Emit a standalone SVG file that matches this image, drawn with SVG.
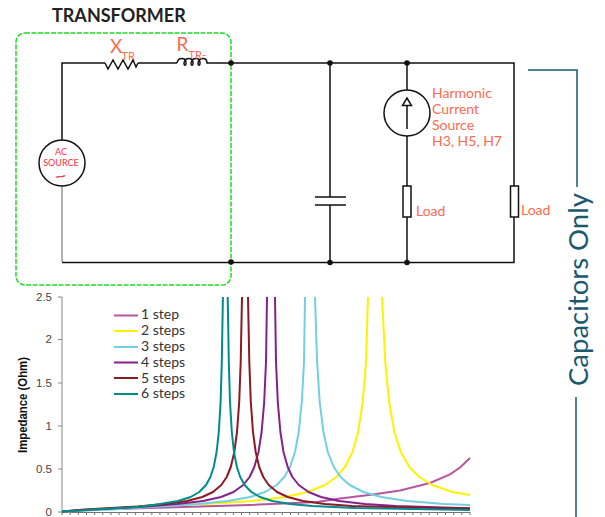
<svg xmlns="http://www.w3.org/2000/svg" width="605" height="517" viewBox="0 0 605 517">
<style>
.w{fill:none;stroke:#111;stroke-width:1.5}
.d{fill:#111}
.o{fill:#ff6a50;font-family:"Lato","Noto Sans",sans-serif}
.c{fill:none;stroke-width:2;stroke-linejoin:round}
.t{fill:#444;font-family:"Liberation Sans",Arial,sans-serif;font-size:11.5px;text-anchor:end}
.l{fill:#333;font-family:"Lato","Noto Sans",sans-serif;font-size:14px}
.s{stroke-width:2;fill:none}
</style>
<rect width="605" height="517" fill="#fff"/>
<text x="52" y="22" font-family="Lato,'Noto Sans',sans-serif" font-weight="700" font-size="18" fill="#222">TRANSFORMER</text>
<g id="connectors">
<path class="w" d="M62 140V63H105M138 63H177M208 63H514V186M514 217V262.500H62"/>
<path d="M62 186V262" fill="none" stroke="#999" stroke-width="1.500"/>
<path class="w" d="M330 63V197M330 205V262.500"/>
<path class="w" d="M407 63V90M407 136V186M407 217V262.500"/>
</g>
<rect id="transformer-box" x="16" y="33" width="215" height="252" rx="9" fill="none" stroke="#1fdc1f" stroke-width="1.500" stroke-dasharray="5 1.500"/>
<g id="junctions">
<circle class="d" cx="231" cy="63" r="2.800"/><circle class="d" cx="231" cy="262" r="2.800"/>
<circle class="d" cx="330" cy="63" r="2.800"/><circle class="d" cx="330" cy="262.500" r="2.800"/>
<circle class="d" cx="407" cy="63" r="2.800"/><circle class="d" cx="407" cy="262.500" r="2.800"/>
</g>
<g id="x-tr">
<path class="w" d="M105 63L108 69L113 60L118 69L123 60L128 69L133 60L136 67L138 63"/>
<text class="o" x="110" y="53" font-size="19">X</text><text class="o" x="121.500" y="60" font-size="11">TR</text>
</g>
<g id="r-tr">
<path class="w" d="M177 63C178 57 186 57 186 63C186 66 184 66 184 63C185 57 193 57 193 63C193 66 191 66 191 63C192 57 200 57 200 63C200 66 198 66 198 63C199 57 207 57 207 63H208"/>
<text class="o" x="176.500" y="51" font-size="19">R</text><text class="o" x="188.500" y="58.500" font-size="11">TR-</text>
</g>
<g id="ac-source">
<circle cx="62" cy="163" r="23" fill="#fff" stroke="#111" stroke-width="1.500"/>
<g fill="#ff4050" font-family="Lato,'Noto Sans',sans-serif" font-size="9px" font-weight="500" text-anchor="middle">
<text x="61" y="155">AC</text><text x="61" y="166">SOURCE</text>
<text transform="translate(60.500 180) scale(1.600 1)" font-size="12px" font-weight="900">~</text>
</g>
</g>
<g id="harmonic-source">
<circle cx="407" cy="113" r="23" fill="#fff" stroke="#111" stroke-width="1.500"/>
<path class="w" d="M407 129V105M402.500 105.500H411.500L407 98Z"/>
<g class="o" font-size="14px">
<text x="432" y="98">Harmonic</text><text x="432" y="114">Current</text><text x="432" y="130">Source</text><text x="432" y="146">H3, H5, H7</text>
</g>
</g>
<g id="capacitor"><path class="w" d="M315 197H346M315 205H346"/></g>
<g id="load-1"><rect x="403" y="186" width="8" height="31" fill="#fff" stroke="#111" stroke-width="1.500"/><text class="o" x="416" y="216" font-size="14">Load</text></g>
<g id="load-2"><rect x="510.500" y="186" width="8" height="31" fill="#fff" stroke="#111" stroke-width="1.500"/><text class="o" x="521" y="215" font-size="14">Load</text></g>
<g id="capacitors-only">
<path d="M528 70H577V187M576 397V517" fill="none" stroke="#1a5a70" stroke-width="1.500"/>
<text transform="translate(588 386) rotate(-90)" font-family="Lato,'Noto Sans',sans-serif" font-size="27.500px" fill="#1a5a70">Capacitors Only</text>
</g>
<g id="chart">
<path d="M58 297H62V512H58M58 339.500H62M58 383H62M58 426H62M58 469H62" fill="none" stroke="#888"/>
<path id="xticks" d="M62 512.500H470M62 512V515M70.200 512V515M78.300 512V515M86.500 512V515M94.600 512V515M102.800 512V515M111 512V515M119.100 512V515M127.300 512V515M135.400 512V515M143.600 512V515M151.800 512V515M159.900 512V515M168.100 512V515M176.200 512V515M184.400 512V515M192.600 512V515M200.700 512V515M208.900 512V515M217 512V515M225.200 512V515M233.400 512V515M241.500 512V515M249.700 512V515M257.800 512V515M266 512V515M274.200 512V515M282.300 512V515M290.500 512V515M298.600 512V515M306.800 512V515M315 512V515M323.100 512V515M331.300 512V515M339.400 512V515M347.600 512V515M355.800 512V515M363.900 512V515M372.100 512V515M380.200 512V515M388.400 512V515M396.600 512V515M404.700 512V515M412.900 512V515M421 512V515M429.200 512V515M437.400 512V515M445.500 512V515M453.700 512V515M461.800 512V515M470 512V515" fill="none" stroke="#777"/>
<text class="t" x="52" y="301">2.5</text><text class="t" x="52" y="343">2</text><text class="t" x="52" y="387">1.5</text><text class="t" x="52" y="430">1</text><text class="t" x="52" y="473">0.5</text><text class="t" x="52" y="516">0</text>
<text transform="translate(27 453) rotate(-90)" font-family="'Liberation Sans',Arial,sans-serif" font-weight="700" font-size="12.500" fill="#111" textLength="96" lengthAdjust="spacingAndGlyphs">Impedance (Ohm)</text>
<polyline class="c" stroke="#b8559f" points="62,511.500 100,509.500 150,508 200,506.500 250,505 317,502 340,498.500 373,494.600 400,490.500 430,483 450,474.300 460,467.500 470,458"/>
<polyline class="c" stroke="#fff200" points="62,511.500 100,509.500 150,505.500 206,504 252,501 285,497 307.500,492 325,485 336.400,477 345,467 352.500,452 358.100,432 362.700,402 366,362 368,297"/>
<polyline class="c" stroke="#fff200" points="382,297 385.300,362 389.100,402 394.400,432 400.800,452 409.400,467 419.300,477 432.400,485 452.500,492 470,495"/>
<polyline class="c" stroke="#72d0e0" points="62,511.500 110,509.500 160,506.500 198,504 228,501 250,497 265,492 276.700,485 284.300,477 290,467 295,452 298.700,432 301.800,402 304,362 305,297"/>
<polyline class="c" stroke="#72d0e0" points="315,297 317.100,362 319.700,402 323.400,432 327.800,452 333.800,467 340.600,477 349.600,485 363.500,492 381.300,497 407.300,501 444,504 470,505"/>
<polyline class="c" stroke="#85218c" points="62,511.500 83,510 146,506.500 177,504 203,501 221,497 233.500,492 243.200,485 249.600,477 254.300,467 258.500,452 261.600,432 264.200,402 266,362 267,297"/>
<polyline class="c" stroke="#85218c" points="275,297 276,362 277.800,402 280.400,432 283.500,452 287.700,467 292.400,477 298.800,485 308.500,492 321,497 339,501 365,504 396,506 459,508 470,508.300"/>
<polyline class="c" stroke="#8c1a22" points="62,511.500 85,509.500 138,506.500 165,504 187,501 202.300,497 213,492 221.300,485 226.700,477 230.800,467 234.300,452 237,432 239.200,402 240.700,362 242,297"/>
<polyline class="c" stroke="#8c1a22" points="248,297 249.300,362 250.800,402 253,432 255.700,452 259.200,467 263.300,477 268.700,485 277,492 287.700,497 303,501 325,504 352,506 405,507.500 470,508.500"/>
<polyline class="c" stroke="#008c8c" points="62,511.500 95,509.500 138,507 160,504 178,501 190.600,497 199.300,492 206,485 210.400,477 213.700,467 216.600,452 218.800,432 220.600,402 221.800,362 222.900,297"/>
<polyline class="c" stroke="#008c8c" points="227.700,297 228.800,362 230,402 231.800,432 234,452 236.900,467 240.200,477 244.600,485 251.300,492 260,497 272.300,501 290.300,504 312.300,506 355,508 470,510"/>
<g class="s">
<path d="M114 315.500H138" stroke="#b8559f"/><path d="M114 331H138" stroke="#fff200"/><path d="M114 347H138" stroke="#72d0e0"/><path d="M114 362.500H138" stroke="#85218c"/><path d="M114 378H138" stroke="#8c1a22"/><path d="M114 394H138" stroke="#008c8c"/>
</g>
<text class="l" x="141" y="319">1 step</text><text class="l" x="141" y="335">2 steps</text><text class="l" x="141" y="351">3 steps</text><text class="l" x="141" y="366.500">4 steps</text><text class="l" x="141" y="382.500">5 steps</text><text class="l" x="141" y="398">6 steps</text>
</g>
</svg>
